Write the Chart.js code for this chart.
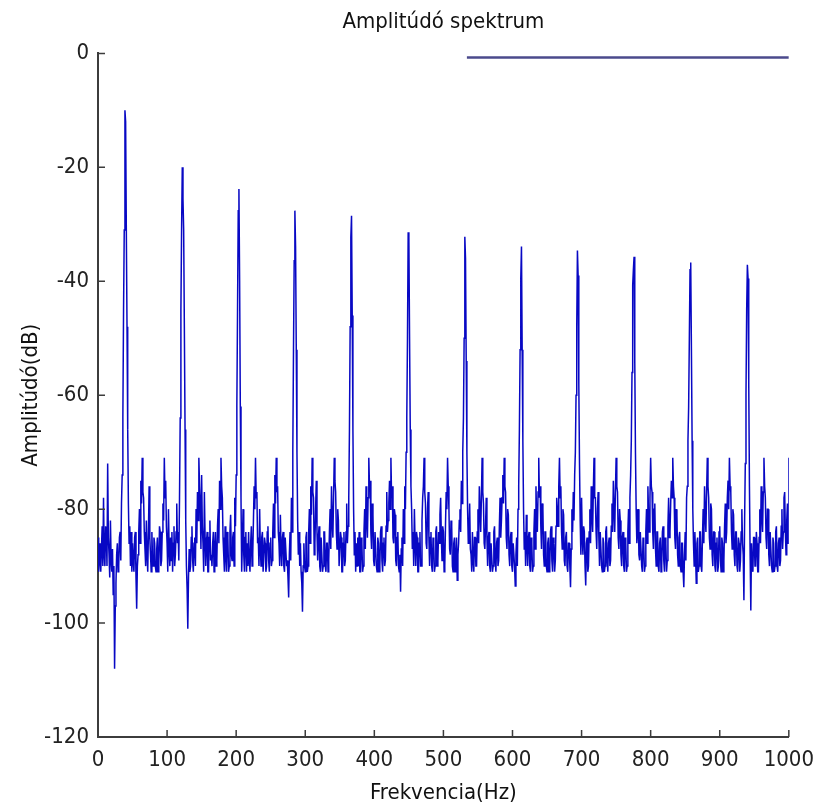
<!DOCTYPE html>
<html>
<head>
<meta charset="utf-8">
<title>Amplitúdó spektrum</title>
<script src="https://cdn.jsdelivr.net/npm/chart.js@4.4.1/dist/chart.umd.min.js"></script>
<style>
  html, body { margin: 0; padding: 0; background: #fff; }
  #wrap { width: 824px; height: 810px; }
</style>
</head>
<body>
<div id="wrap"><canvas id="spectrum"></canvas></div>
<script>
// spectrum sampled every 1 Hz, 0..1000 Hz (dB), 20 values per row
const freqStep = 1;
const amplitudeDb = [
  -85, -91, -89, -86, -91, -87, -83, -90, -78, -88, -90, -83, -84, -90, -72, -85, -88, -92, -82, -89,            // 0
  -91, -87, -95, -90, -108, -97, -93, -88, -86, -91, -90, -85, -84, -89, -79, -74, -64, -45, -31, -10,           // 20
  -12, -31, -48, -66, -79, -86, -83, -90, -84, -91, -86, -89, -91, -85, -84, -92, -97.5, -90, -88, -84,          // 40
  -80, -86, -75, -79, -71, -77, -78, -84, -87, -90, -82, -88, -91, -84, -76, -85, -88, -91, -84, -89,            // 60
  -90, -85, -86, -90, -91, -87, -85, -91, -90, -83, -84, -90, -89, -84, -79, -82, -71, -78, -75, -83,            // 80
  -86, -91, -80, -87, -90, -85, -89, -84, -91, -86, -83, -90, -88, -84, -79, -86, -84, -89, -78, -64,            // 100
  -45, -31, -20, -25.5, -31, -48, -66, -82, -90, -94, -101, -92, -87, -91, -90, -85, -83, -89, -91, -86,         // 120
  -85, -90, -80, -86, -77, -82, -71, -76, -79, -87, -74, -83, -86, -91, -77, -85, -90, -86, -84, -91,            // 140
  -91, -85, -82, -89, -88, -90, -86, -84, -91, -87, -84, -90, -89, -83, -80, -86, -75, -80, -71, -76,            // 160
  -78, -85, -88, -91, -83, -88, -91, -84, -85, -91, -90, -84, -81, -88, -89, -85, -84, -90, -78, -83,            // 180
  -74, -62, -45, -27.6, -23.8, -40, -62, -78, -91, -86, -80, -88, -91, -85, -84, -91, -86, -90, -84, -89,        // 200
  -91, -86, -83, -90, -88, -82, -76, -80, -71, -78, -77, -86, -85, -90, -80, -87, -90, -85, -84, -91,            // 220
  -91, -85, -86, -91, -90, -84, -83, -89, -91, -86, -85, -90, -89, -84, -79, -85, -74, -79, -71, -77,            // 240
  -76, -84, -86, -90, -81, -87, -90, -85, -84, -90, -91, -85, -85, -90, -89, -92, -95.5, -88, -84, -89,          // 260
  -78, -84, -70, -52, -36.4, -27.6, -34, -52, -70, -82, -88, -84, -90, -86, -91, -93, -98, -90, -86, -90,        // 280
  -91, -85, -84, -91, -90, -84, -80, -86, -76, -81, -71, -77, -78, -88, -86, -80, -75, -84, -89, -85,            // 300
  -83, -90, -91, -85, -85, -91, -90, -84, -84, -90, -91, -86, -86, -91, -89, -84, -80, -87, -76, -82,            // 320
  -85, -78, -71, -75, -77, -84, -87, -80, -82, -90, -90, -84, -85, -91, -91, -86, -84, -90, -89, -84,            // 340
  -79, -86, -83, -78, -66, -48, -32.3, -28.5, -46, -66, -80, -88, -84, -91, -86, -90, -85, -90, -84, -91,        // 360
  -91, -85, -86, -91, -90, -84, -80, -87, -76, -82, -85, -78, -71, -76, -75, -84, -87, -79, -81, -89,            // 380
  -90, -84, -84, -90, -91, -85, -86, -91, -90, -84, -83, -89, -91, -86, -85, -90, -89, -83, -77, -84,            // 400
  -82, -79, -75, -80, -71, -78, -76, -85, -86, -80, -81, -89, -90, -85, -84, -90, -91, -88, -94.5, -87,          // 420
  -85, -90, -80, -86, -76, -80, -70, -64, -50, -31.4, -32.3, -50, -66, -76, -80, -87, -84, -90, -80, -86,        // 440
  -90, -84, -85, -91, -91, -86, -84, -90, -90, -82, -78, -76, -71, -77, -79, -86, -87, -80, -77, -85,            // 460
  -90, -85, -84, -90, -91, -85, -86, -91, -90, -84, -83, -90, -89, -84, -86, -81, -78, -85, -89, -83,            // 480
  -84, -91, -90, -83, -77, -80, -71, -76, -80, -87, -88, -82, -83, -90, -91, -86, -85, -91, -89, -85,            // 500
  -92.5, -88, -86, -82, -80, -84, -75, -79, -70, -64, -50, -32.2, -36, -54, -70, -80, -86, -84, -79, -87,        // 520
  -88, -91, -84, -89, -91, -85, -85, -90, -90, -84, -80, -86, -76, -80, -84, -78, -71, -77, -79, -86,            // 540
  -87, -83, -78, -85, -90, -85, -84, -90, -91, -86, -86, -91, -90, -84, -83, -89, -91, -86, -85, -90,            // 560
  -89, -83, -78, -85, -82, -78, -74, -79, -71, -76, -77, -85, -87, -80, -81, -88, -90, -85, -84, -90,            // 580
  -91, -86, -86, -90, -93.5, -88, -85, -90, -80, -76, -66, -52, -39.5, -33.9, -52, -68, -80, -87, -84, -90,      // 600
  -81, -86, -90, -85, -84, -90, -91, -85, -86, -91, -90, -84, -80, -87, -76, -82, -84, -77, -71, -78,            // 620
  -76, -83, -87, -79, -80, -88, -90, -84, -84, -90, -91, -86, -85, -91, -90, -84, -83, -89, -91, -85,            // 640
  -86, -91, -89, -83, -78, -80, -83, -76, -71, -78, -76, -84, -87, -80, -81, -89, -90, -85, -84, -90,            // 660
  -91, -86, -86, -90, -93.7, -87, -80, -84, -77, -82, -74, -70, -60, -48, -34.6, -39, -58, -72, -82, -88,        // 680
  -78, -85, -88, -83, -84, -90, -93.4, -86, -85, -91, -90, -84, -80, -86, -76, -81, -84, -77, -71, -78,          // 700
  -78, -84, -87, -80, -77, -85, -90, -84, -84, -90, -91, -85, -86, -91, -90, -84, -83, -89, -91, -86,            // 720
  -85, -90, -89, -83, -79, -84, -75, -80, -84, -77, -71, -76, -77, -85, -87, -80, -82, -88, -90, -85,            // 740
  -84, -90, -91, -85, -86, -91, -90, -84, -80, -86, -78, -74, -68, -56, -40.7, -38, -35.7, -54, -70, -80,        // 760
  -86, -84, -80, -88, -89, -84, -84, -90, -91, -85, -86, -91, -90, -84, -80, -86, -76, -81, -84, -78,            // 780
  -71, -76, -77, -84, -87, -80, -79, -87, -90, -84, -84, -90, -91, -86, -85, -91, -90, -84, -83, -89,            // 800
  -91, -85, -86, -91, -89, -83, -78, -85, -84, -79, -75, -78, -71, -76, -78, -85, -87, -80, -81, -88,            // 820
  -90, -85, -84, -90, -91, -86, -86, -91, -93.7, -88, -84, -89, -78, -76, -68, -62, -50, -38, -36.7, -52,        // 840
  -68, -80, -86, -90, -84, -88, -93, -86, -85, -91, -90, -84, -84, -90, -91, -85, -80, -86, -76, -81,            // 860
  -84, -77, -71, -76, -78, -85, -87, -79, -80, -88, -90, -84, -84, -90, -91, -86, -85, -91, -90, -84,            // 880
  -83, -89, -91, -85, -86, -91, -89, -83, -79, -86, -84, -78, -75, -80, -71, -76, -77, -84, -87, -80,            // 900
  -81, -88, -90, -84, -84, -90, -91, -85, -86, -91, -89, -84, -80, -86, -88, -96, -82, -72, -60, -45,            // 920
  -37.1, -39.5, -58, -76, -88, -97.8, -86, -90, -91, -85, -85, -90, -90, -84, -86, -91, -91, -85, -80, -86,      // 940
  -76, -81, -84, -77, -71, -76, -78, -85, -87, -80, -80, -88, -90, -84, -84, -90, -91, -85, -86, -91,            // 960
  -90, -84, -83, -90, -91, -86, -85, -90, -89, -83, -80, -87, -84, -78, -77, -84, -88, -82, -79, -86,            // 980
  -71                                                                                                            // 1000
];

// short flat line along the top edge of the plot
const topLineHz = [534, 1000];
const topLineDb = [-0.7, -0.7];

const xTicks = [0, 100, 200, 300, 400, 500, 600, 700, 800, 900, 1000];
const yTicks = [-120, -100, -80, -60, -40, -20, 0];

const freqs = amplitudeDb.map((_, i) => i * freqStep);

const fontFamily = "'Liberation Sans Narrow', 'Arial Narrow', 'DejaVu Sans Condensed', sans-serif";
const axisColor = '#3c3c3c';

// matlab style ticks pointing into the plot
const inwardTicks = {
    id: 'inwardTicks',
    afterDatasetsDraw(chart) {
        const { ctx, chartArea, scales } = chart;
        ctx.save();
        ctx.strokeStyle = axisColor;
        ctx.lineWidth = 1.5;
        ctx.beginPath();
        scales.x.ticks.forEach(t => {
            const px = scales.x.getPixelForValue(t.value);
            ctx.moveTo(px, chartArea.bottom);
            ctx.lineTo(px, chartArea.bottom - 7);
        });
        scales.y.ticks.forEach(t => {
            const py = scales.y.getPixelForValue(t.value);
            ctx.moveTo(chartArea.left, py);
            ctx.lineTo(chartArea.left + 7, py);
        });
        ctx.stroke();
        ctx.restore();
    }
};

new Chart(document.getElementById('spectrum'), {
    type: 'line',
    data: {
        datasets: [
            {
                label: 'Amplitúdó',
                data: freqs.map((f, i) => ({ x: f, y: amplitudeDb[i] })),
                borderColor: '#0808c4',
                borderWidth: 1.5,
                pointRadius: 0,
                tension: 0
            },
            {
                label: 'top',
                data: topLineHz.map((f, i) => ({ x: f, y: topLineDb[i] })),
                borderColor: '#4b4a8c',
                borderWidth: 2.5,
                pointRadius: 0
            }
        ]
    },
    options: {
        responsive: true,
        maintainAspectRatio: false,
        animation: false,
        layout: { padding: { left: 0, right: 33, top: 0, bottom: 0 } },
        plugins: {
            legend: { display: false },
            tooltip: { enabled: false },
            title: {
                display: true,
                fullSize: false,
                text: 'Amplitúdó spektrum',
                color: '#111',
                font: { family: fontFamily, size: 22, weight: 'normal', lineHeight: 1.2 },
                padding: { top: 9, bottom: 18 }
            }
        },
        scales: {
            x: {
                type: 'linear',
                min: 0,
                max: 1000,
                afterBuildTicks: s => { s.ticks = xTicks.map(v => ({ value: v })); },
                afterFit: s => { s.height = 73; },
                grid: { display: false, drawTicks: false },
                border: { display: true, color: axisColor, width: 2 },
                ticks: {
                    color: '#222',
                    padding: 10,
                    maxRotation: 0,
                    font: { family: fontFamily, size: 22 },
                    callback: v => String(v)
                },
                title: {
                    display: true,
                    text: 'Frekvencia(Hz)',
                    color: '#111',
                    font: { family: fontFamily, size: 22, lineHeight: 1.2 },
                    padding: { top: 0, bottom: 4 }
                }
            },
            y: {
                min: -120,
                max: 0,
                afterBuildTicks: s => { s.ticks = yTicks.map(v => ({ value: v })); },
                afterFit: s => { s.width = 98; },
                grid: { display: false, drawTicks: false },
                border: { display: true, color: axisColor, width: 2 },
                ticks: {
                    color: '#222',
                    padding: 9,
                    font: { family: fontFamily, size: 22 },
                    callback: v => String(v)
                },
                title: {
                    display: true,
                    text: 'Amplitúdó(dB)',
                    color: '#111',
                    font: { family: fontFamily, size: 22, lineHeight: 1.2 },
                    padding: { top: 18, bottom: 0 }
                }
            }
        }
    },
    plugins: [inwardTicks]
});
</script>
</body>
</html>
